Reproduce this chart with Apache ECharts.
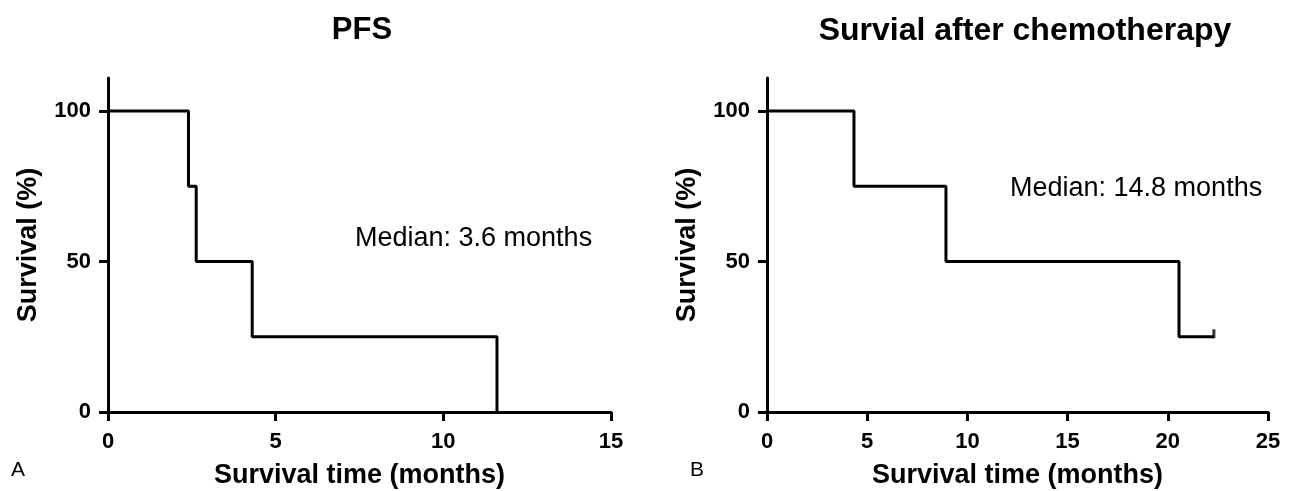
<!DOCTYPE html>
<html>
<head>
<meta charset="utf-8">
<script src="https://cdn.jsdelivr.net/npm/echarts@6/dist/echarts.min.js"></script>
<style>
html,body{margin:0;padding:0;background:#fff;}
#chart{width:1295px;height:491px;}
</style>
</head>
<body>
<div id="chart"></div>
<script>
// ---- data ----
var pfsTimes = [0, 2.4, 2.63, 4.3, 11.6];
var pfsSurvival = [100, 75, 50, 25, 0];
var osTimes = [0, 4.34, 8.93, 20.56, 22.3];
var osSurvival = [100, 75, 50, 25, 25];
var osCensorTimes = [22.3];
var osCensorSurvival = [25];
var yTicks = [0, 50, 100];
var titles = ['PFS', 'Survial after chemotherapy'];
var xName = 'Survival time (months)';
var yName = 'Survival (%)';
var notes = ['Median: 3.6 months', 'Median: 14.8 months'];
var panelLabels = ['A', 'B'];

function zip(a, b) { return a.map(function (v, i) { return [v, b[i]]; }); }

var FONT = '"Liberation Sans", Arial, Helvetica, sans-serif';
var black = '#000';

function xAxis(idx, max) {
  return {
    gridIndex: idx, type: 'value', min: 0, max: max, interval: 5,
    name: xName, nameLocation: 'middle', nameGap: 50,
    nameTextStyle: { fontFamily: FONT, fontWeight: 'bold', fontSize: 27, color: black },
    axisLine: { show: true, onZero: false, lineStyle: { color: black, width: 3 } },
    axisTick: { show: true, length: 9, lineStyle: { color: black, width: 3 } },
    axisLabel: { margin: 19, fontFamily: FONT, fontWeight: 'bold', fontSize: 22, color: black },
    splitLine: { show: false }
  };
}
function yAxis(idx) {
  return {
    gridIndex: idx, type: 'value', min: 0, max: 111,
    name: yName, nameLocation: 'middle', nameGap: 66, nameRotate: 90,
    nameTextStyle: { fontFamily: FONT, fontWeight: 'bold', fontSize: 27, color: black },
    axisLine: { show: true, onZero: false, lineStyle: { color: black, width: 3 } },
    axisTick: { show: true, length: 9, customValues: yTicks, lineStyle: { color: black, width: 3 } },
    axisLabel: { margin: 17, customValues: yTicks, fontFamily: FONT, fontWeight: 'bold', fontSize: 22, color: black },
    splitLine: { show: false }
  };
}

var option = {
  animation: false,
  backgroundColor: '#fff',
  title: [
    { text: titles[0], left: 357, top: 10, textAlign: 'center',
      textStyle: { fontFamily: FONT, fontWeight: 'bold', fontSize: 31, color: black } },
    { text: titles[1], left: 1020, top: 10, textAlign: 'center',
      textStyle: { fontFamily: FONT, fontWeight: 'bold', fontSize: 32, color: black } }
  ],
  grid: [
    { left: 108, top: 78, width: 503, height: 334, outerBoundsMode: 'none', containLabel: false },
    { left: 767, top: 78, width: 501, height: 334, outerBoundsMode: 'none', containLabel: false }
  ],
  xAxis: [xAxis(0, 15), xAxis(1, 25)],
  yAxis: [yAxis(0), yAxis(1)],
  series: [
    { type: 'line', xAxisIndex: 0, yAxisIndex: 0, step: 'end', data: zip(pfsTimes, pfsSurvival),
      showSymbol: false, lineStyle: { color: black, width: 3 }, clip: false },
    { type: 'line', xAxisIndex: 1, yAxisIndex: 1, step: 'end', data: zip(osTimes, osSurvival),
      showSymbol: false, lineStyle: { color: black, width: 3 }, clip: false },
    { type: 'scatter', xAxisIndex: 1, yAxisIndex: 1, data: zip(osCensorTimes, osCensorSurvival),
      symbol: 'rect', symbolSize: [3, 9], symbolOffset: [0, -3], itemStyle: { color: black } }
  ],
  graphic: [
    { type: 'text', left: 355, top: 225, style: { text: notes[0], fontFamily: FONT, fontSize: 27, fill: black } },
    { type: 'text', left: 1010, top: 175, style: { text: notes[1], fontFamily: FONT, fontSize: 27, fill: black } },
    { type: 'text', left: 11, top: 460, style: { text: panelLabels[0], fontFamily: FONT, fontSize: 21, fill: black } },
    { type: 'text', left: 690, top: 460, style: { text: panelLabels[1], fontFamily: FONT, fontSize: 21, fill: black } }
  ]
};

var chart = echarts.init(document.getElementById('chart'), null, { renderer: 'canvas' });
chart.setOption(option);
</script>
</body>
</html>
